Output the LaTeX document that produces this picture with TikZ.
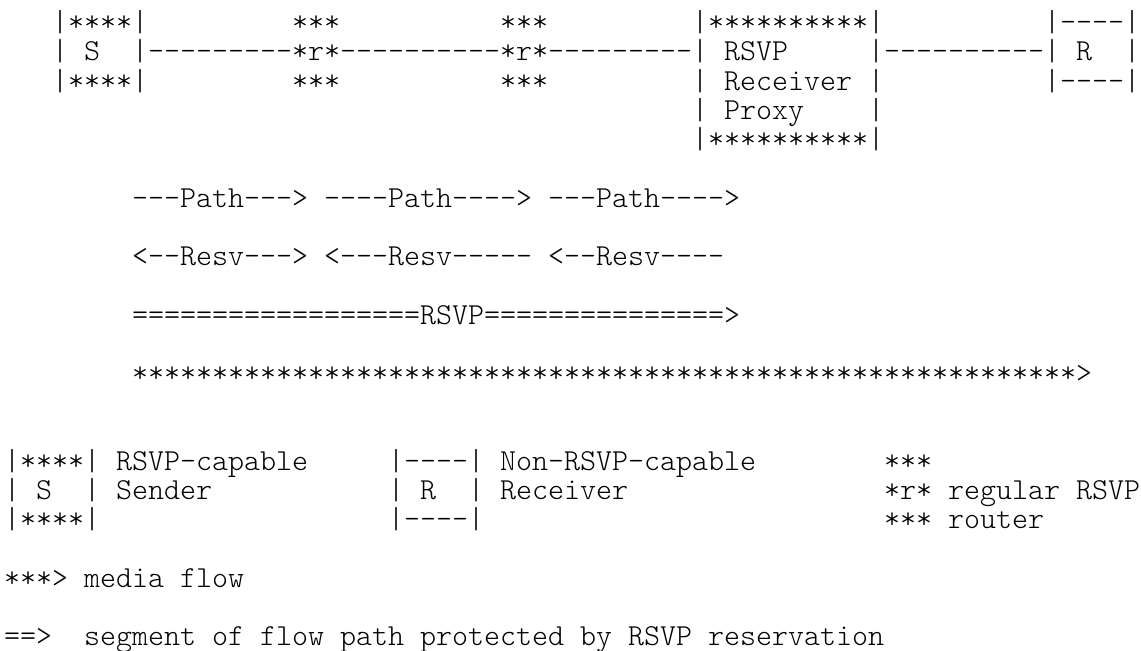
\documentclass[tikz,border=0pt]{standalone}
\usepackage{fontspec}
\setmonofont{Latin Modern Mono Light}
\usepackage{tikz}
\usetikzlibrary{positioning}

\begin{document}
\begin{tikzpicture}[x=8pt,y=-14.625pt,
  ascii/.style={anchor=base west,inner sep=0pt,outer sep=0pt,
    font=\ttfamily\fontsize{15.24pt}{17pt}\selectfont}]

\useasboundingbox (0,0) rectangle (71.3125,22.256);

\begin{scope}[shift={(0.25,1.08)},every node/.style={ascii}]
% flow path: sender, two routers, proxy, receiver
\node (stop)  at (3,0) {|****|};
\node (snd)   at (3,1) {|~S~~|};
\node (sbot)  at (3,2) {|****|};

\node (l1)    at (9,1) {---------};
\foreach \r/\c in {1/18,2/31}{
  \node (r\r top) at (\c,0) {***};
  \node (r\r)     at (\c,1) {*r*};
  \node (r\r bot) at (\c,2) {***};
}
\node (l2)    at (21,1) {----------};
\node (l3)    at (34,1) {---------};

\node (ptop)  at (43,0) {|**********|};
\node (prx1)  at (43,1) {|~RSVP~~~~~|};
\node (prx2)  at (43,2) {|~Receiver~|};
\node (prx3)  at (43,3) {|~Proxy~~~~|};
\node (pbot)  at (43,4) {|**********|};

\node (l4)    at (55,1) {----------};
\node (rtop)  at (65,0) {|----|};
\node (rcv)   at (65,1) {|~R~~|};
\node (rbot)  at (65,2) {|----|};

% signalling
\node (path1) at (8,6)  {---Path--->};
\node (path2) at (20,6) {----Path---->};
\node (path3) at (34,6) {---Path---->};
\node (resv1) at (8,8)  {<--Resv--->};
\node (resv2) at (20,8) {<---Resv-----};
\node (resv3) at (34,8) {<--Resv----};
\node (prot)  at (8,10) {==================RSVP===============>};
\node (media) at (8,12) {***********************************************************>};

% legend
\node (ktop1) at (0,15)  {|****|};
\node (ksnd)  at (0,16)  {|~S~~|};
\node (kbot1) at (0,17)  {|****|};
\node (ktxt1) at (7,15)  {RSVP-capable};
\node (ktxt2) at (7,16)  {Sender};
\node (ktop2) at (24,15) {|----|};
\node (krcv)  at (24,16) {|~R~~|};
\node (kbot2) at (24,17) {|----|};
\node (ktxt3) at (31,15) {Non-RSVP-capable};
\node (ktxt4) at (31,16) {Receiver};
\node (ktop3) at (55,15) {***};
\node (krtr)  at (55,16) {*r*};
\node (kbot3) at (55,17) {***};
\node (ktxt5) at (59,16) {regular RSVP};
\node (ktxt6) at (59,17) {router};
\node (kmed)  at (0,19)  {***>};
\node (ktxt7) at (5,19)  {media flow};
\node (kprot) at (0,21)  {==>};
\node (ktxt8) at (5,21)  {segment of flow path protected by RSVP reservation};
\end{scope}
\end{tikzpicture}
\end{document}
